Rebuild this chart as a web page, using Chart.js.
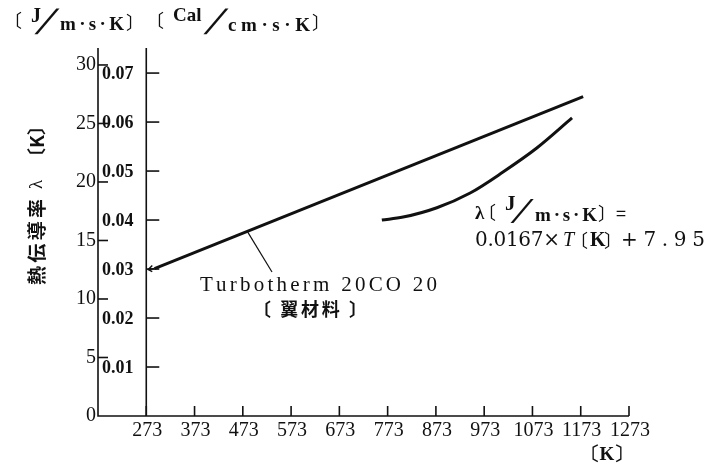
<!DOCTYPE html>
<html>
<head>
<meta charset="utf-8">
<script src="https://cdn.jsdelivr.net/npm/chart.js@4/dist/chart.umd.min.js"></script>
<style>
  html, body { margin: 0; padding: 0; background: #fff; }
  canvas { display: block; }
</style>
</head>
<body>
<canvas id="chart" width="728" height="474"></canvas>
<script>
// temperature (K) and conductivity lambda (J/m.s.K)
const lineTemps = [290, 1178];
const lineLambda = [12.6, 27.3];
const curveTemps = [761, 805, 875, 944, 1012, 1082, 1155];
const curveLambda = [16.75, 17.0, 17.8, 19.06, 20.85, 22.9, 25.47];

const xTicks = [273, 373, 473, 573, 673, 773, 873, 973, 1073, 1173, 1273];
const jTicks = [0, 5, 10, 15, 20, 25, 30];
const calTicks = [0.01, 0.02, 0.03, 0.04, 0.05, 0.06, 0.07];
const CAL_TO_J = 418.68; // cal/cm.s.K -> J/m.s.K

const ink = "#111";
const serif = "'Liberation Serif', 'DejaVu Serif', serif";
const cjk = "'Noto Sans CJK JP', 'Noto Sans CJK SC', sans-serif";

// draw text spread out to a given width
function spreadText(ctx, text, x, y, width) {
  const chars = Array.from(text);
  let total = 0;
  chars.forEach(c => total += ctx.measureText(c).width);
  const gap = chars.length > 1 ? (width - total) / (chars.length - 1) : 0;
  let cx = x;
  chars.forEach(c => {
    ctx.fillText(c, cx, y);
    cx += ctx.measureText(c).width + gap;
  });
}

// wide slash used in the unit fractions (x = left, y = middle)
function slash(ctx, x, y, size) {
  ctx.save();
  ctx.translate(x, y);
  ctx.scale(1.4, 0.85);
  ctx.font = size + "px 'DejaVu Sans'";
  ctx.textAlign = "left";
  ctx.textBaseline = "middle";
  ctx.fillText("╱", 0, 0);
  ctx.restore();
}

const axesPlugin = {
  id: "paperAxes",
  afterDraw(chart) {
    const ctx = chart.ctx;
    const xs = chart.scales.x, ys = chart.scales.y;
    const left = xs.getPixelForValue(xs.min);
    const right = xs.getPixelForValue(xs.max);
    const bottom = ys.getPixelForValue(0);
    const top = ys.getPixelForValue(ys.max);
    const x273 = xs.getPixelForValue(273);

    ctx.save();
    ctx.strokeStyle = ink;
    ctx.fillStyle = ink;
    ctx.lineWidth = 1.6;

    // axis lines
    ctx.beginPath();
    ctx.moveTo(left, top); ctx.lineTo(left, bottom); ctx.lineTo(right, bottom);
    ctx.moveTo(x273, top); ctx.lineTo(x273, bottom);
    ctx.stroke();

    // x ticks
    ctx.font = "20px " + serif;
    ctx.textAlign = "center";
    ctx.textBaseline = "top";
    xTicks.forEach(t => {
      const px = xs.getPixelForValue(t);
      ctx.beginPath(); ctx.moveTo(px, bottom); ctx.lineTo(px, bottom - 10); ctx.stroke();
      ctx.fillText(String(t), px + 1, bottom + 5);
    });
    ctx.font = "bold 19px " + serif;
    ctx.fillText("〔K〕", right - 22, bottom + 30);

    // J/m.s.K ticks
    ctx.font = "20px " + serif;
    ctx.textAlign = "right";
    ctx.textBaseline = "middle";
    jTicks.forEach(t => {
      const py = ys.getPixelForValue(t);
      if (t > 0) { ctx.beginPath(); ctx.moveTo(left, py); ctx.lineTo(left + 10, py); ctx.stroke(); }
      ctx.fillText(String(t), left - 2, py);
    });

    // cal/cm.s.K ticks
    ctx.font = "bold 18px " + serif;
    ctx.textAlign = "left";
    calTicks.forEach(t => {
      const py = ys.getPixelForValue(t * CAL_TO_J);
      ctx.beginPath(); ctx.moveTo(x273, py); ctx.lineTo(x273 + 13, py); ctx.stroke();
      ctx.fillText(t.toFixed(2), left + 4, py + 1);
    });

    // arrow tip at line start
    const ax = xs.getPixelForValue(lineTemps[0]);
    const ay = ys.getPixelForValue(lineLambda[0]);
    ctx.lineWidth = 1.5;
    ctx.beginPath();
    ctx.moveTo(ax, ay); ctx.lineTo(x273 + 2, ay + 1);
    ctx.moveTo(x273 + 6, ay - 3); ctx.lineTo(x273 + 2, ay + 1); ctx.lineTo(x273 + 6, ay + 3);
    ctx.stroke();

    // leader line to material label
    const lx = xs.getPixelForValue(482);
    const ly = ys.getPixelForValue(15.8);
    ctx.lineWidth = 1.2;
    ctx.beginPath(); ctx.moveTo(lx, ly); ctx.lineTo(272, 272); ctx.stroke();

    // material label
    ctx.textAlign = "left";
    ctx.textBaseline = "middle";
    ctx.font = "21px " + serif;
    spreadText(ctx, "Turbotherm 20CO 20", 200, 285, 237);
    ctx.font = "bold 18px " + cjk;
    spreadText(ctx, "〔 翼材料 〕", 253, 309, 114);

    // formula
    ctx.font = "bold 19px " + serif;
    ctx.fillText("λ", 475, 214);
    ctx.font = "18px " + cjk;
    ctx.fillText("〔", 478, 212);
    ctx.font = "bold 21px " + serif;
    ctx.fillText("J", 505, 205);
    slash(ctx, 512, 213, 24);
    ctx.font = "bold 19px " + serif;
    spreadText(ctx, "m·s·K", 535, 216, 62);
    ctx.font = "18px " + cjk;
    ctx.fillText("〕=", 598, 213);
    ctx.font = "20px 'DejaVu Serif'";
    spreadText(ctx, "0.0167×", 475, 241, 85);
    ctx.font = "italic 20px " + serif;
    ctx.fillText("T", 563, 241);
    ctx.font = "18px " + cjk;
    ctx.fillText("〔", 570, 240);
    ctx.font = "bold 20px " + serif;
    ctx.fillText("K", 590, 241);
    ctx.font = "18px " + cjk;
    ctx.fillText("〕", 604, 240);
    ctx.font = "20px 'DejaVu Serif'";
    spreadText(ctx, "+7.95", 621, 241, 84);

    // header units
    ctx.font = "18px " + cjk;
    ctx.fillText("〔", 4, 20);
    ctx.font = "bold 20px " + serif;
    ctx.fillText("J", 31, 17);
    slash(ctx, 36, 23, 26);
    ctx.font = "bold 19px " + serif;
    spreadText(ctx, "m·s·K", 60, 25, 64);
    ctx.font = "18px " + cjk;
    ctx.fillText("〕", 126, 22);
    ctx.fillText("〔", 146, 20);
    ctx.font = "bold 19px " + serif;
    ctx.fillText("Cal", 173, 16);
    slash(ctx, 205, 23, 26);
    ctx.font = "bold 19px " + serif;
    spreadText(ctx, "cm·s·K", 228, 26, 82);
    ctx.font = "18px " + cjk;
    ctx.fillText("〕", 312, 22);

    // y axis title (vertical)
    ctx.translate(37, 285);
    ctx.rotate(-Math.PI / 2);
    ctx.font = "bold 19px " + cjk;
    spreadText(ctx, "熱伝導率", 0, 0, 86);
    ctx.font = "19px " + serif;
    ctx.fillText("λ", 96, 0);
    ctx.font = "bold 19px " + cjk;
    ctx.fillText("〔K〕", 118, 0);
    ctx.restore();
  }
};

new Chart(document.getElementById("chart").getContext("2d"), {
  type: "line",
  data: {
    datasets: [
      {
        data: lineTemps.map((t, i) => ({ x: t, y: lineLambda[i] })),
        borderColor: ink,
        borderWidth: 3,
        pointRadius: 0
      },
      {
        data: curveTemps.map((t, i) => ({ x: t, y: curveLambda[i] })),
        borderColor: ink,
        borderWidth: 3,
        pointRadius: 0,
        cubicInterpolationMode: "monotone"
      }
    ]
  },
  options: {
    responsive: false,
    animation: false,
    layout: { padding: { left: 98, right: 99, top: 48, bottom: 58 } },
    plugins: { legend: { display: false }, tooltip: { enabled: false } },
    scales: {
      x: { type: "linear", min: 173, max: 1273, display: false },
      y: { type: "linear", min: 0, max: 31.45, display: false }
    }
  },
  plugins: [axesPlugin]
});
</script>
</body>
</html>
